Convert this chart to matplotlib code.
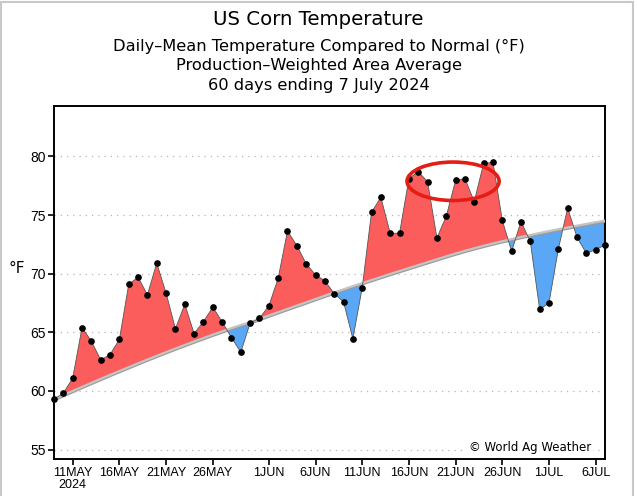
import numpy as np
import matplotlib
matplotlib.use('agg')
import matplotlib.pyplot as plt
import matplotlib.dates as mdates
from matplotlib.patches import Ellipse, Rectangle

# Data
start_day = '2024-05-09'
end_day = '2024-07-08'   # exclusive
observed = [59.3, 59.8, 61.1, 65.4, 64.25, 62.65, 63.1, 64.4, 69.1, 69.7,
            68.2, 70.9, 68.35, 65.3, 67.4, 64.9, 65.9, 67.15, 65.9, 64.55,
            63.3, 65.8, 66.2, 67.25, 69.6, 73.65, 72.4, 70.85, 69.9, 69.4,
            68.3, 67.6, 64.45, 68.8, 75.25, 76.5, 73.45, 73.45, 78.1, 78.7,
            77.85, 73.05, 74.9, 77.95, 78.1, 76.15, 79.4, 79.5, 74.55, 71.9,
            74.45, 72.75, 66.95, 67.5, 72.1, 75.6, 73.1, 71.75, 72.05, 72.45]
normal = [59.30, 59.65, 60.00, 60.35, 60.69, 61.03, 61.37, 61.70, 62.03, 62.36,
          62.68, 63.00, 63.31, 63.62, 63.92, 64.22, 64.51, 64.80, 65.08, 65.36,
          65.63, 65.85, 66.14, 66.43, 66.72, 67.00, 67.28, 67.56, 67.84, 68.12,
          68.40, 68.67, 68.94, 69.20, 69.46, 69.72, 69.98, 70.23, 70.48, 70.73,
          70.98, 71.23, 71.48, 71.72, 71.95, 72.17, 72.38, 72.58, 72.77, 72.95,
          73.13, 73.30, 73.47, 73.63, 73.79, 73.94, 74.09, 74.24, 74.39, 74.53]
tick_dates = ['2024-05-11', '2024-05-16', '2024-05-21', '2024-05-26', '2024-06-01',
              '2024-06-06', '2024-06-11', '2024-06-16', '2024-06-21', '2024-06-26',
              '2024-07-01', '2024-07-06']
tick_labels = ['11MAY\n2024', '16MAY', '21MAY', '26MAY', '1JUN', '6JUN', '11JUN',
               '16JUN', '21JUN', '26JUN', '1JUL', '6JUL']
y_ticks = [55, 60, 65, 70, 75, 80]

titles = ['US Corn Temperature',
          'Daily\u2013Mean Temperature Compared to Normal (\u00b0F)',
          'Production\u2013Weighted Area Average',
          '60 days ending 7 July 2024']

RED = '#fb5d5d'
BLUE = '#5aa7f5'

days = np.arange(start_day, end_day, dtype='datetime64[D]')
x = mdates.date2num(days)
obs = np.array(observed)
nrm = np.array(normal)

fig = plt.figure(figsize=(6.37, 4.96), dpi=100)
ax = fig.add_axes([0.0848, 0.0746, 0.865, 0.7117])

# Light grey frame round the picture
fig.patches.append(Rectangle((0.002, -0.01), 0.992, 1.006, transform=fig.transFigure,
                             fill=False, edgecolor='#c8c8c8', linewidth=1.5))

# Titles
fig.text(0.5, 0.9597, titles[0], ha='center', va='center', fontsize=14.2)
fig.text(0.5, 0.907, titles[1], ha='center', va='center', fontsize=11.7)
fig.text(0.5, 0.868, titles[2], ha='center', va='center', fontsize=11.7)
fig.text(0.5, 0.8276, titles[3], ha='center', va='center', fontsize=11.7)

# Grid
for yv in y_ticks:
    ax.axhline(yv, color='#b4b4b4', linestyle=(0, (1, 4)), linewidth=0.9, zorder=1)

# Fills above/below normal
ax.fill_between(x, nrm, obs, where=obs >= nrm, interpolate=True, color=RED,
                linewidth=0, zorder=2)
ax.fill_between(x, nrm, obs, where=obs < nrm, interpolate=True, color=BLUE,
                linewidth=0, zorder=2)

# Normal line
ax.plot(x, nrm - 0.08, color='#9a9a9a', linewidth=2.0, zorder=3, solid_capstyle='butt')
ax.plot(x, nrm, color='#c4c4c4', linewidth=1.6, zorder=3, solid_capstyle='butt')

# Observed line and points
ax.plot(x, obs, color='#555555', linewidth=0.6, zorder=4)
ax.plot(x, obs, 'o', color='black', markersize=3.8, zorder=5, clip_on=False)

# Red ellipse annotation
ax.add_patch(Ellipse((x[0] + 42.73, 77.88), 9.86, 3.28, fill=False,
                     edgecolor='#e41e14', linewidth=2.6, zorder=6))

# Copyright text
ax.text(0.975, 0.033, '\u00a9 World Ag Weather', transform=ax.transAxes,
        ha='right', va='center', fontsize=8.5, zorder=7,
        bbox=dict(facecolor='white', edgecolor='none', pad=1.5))

# Axes
ax.set_xlim(x[0], x[0] + 59)
ax.set_ylim(54.2, 84.3)
ax.set_xticks(mdates.date2num(np.array(tick_dates, dtype='datetime64[D]')))
ax.set_xticklabels(tick_labels, family=['Liberation Sans Narrow', 'Liberation Sans'],
                   fontsize=9, linespacing=1.0)
ax.set_yticks(y_ticks)
ax.set_yticklabels([str(v) for v in y_ticks], family='Liberation Sans', fontsize=10)
ax.tick_params(axis='both', direction='out', length=4, width=1.2, pad=2)
for side in ['left', 'right', 'top', 'bottom']:
    ax.spines[side].set_linewidth(1.4)
ax.text(-0.067, 0.541, '\u00b0F', transform=ax.transAxes, ha='center', va='center',
        fontsize=11)

plt.savefig('out.png', dpi=100)
plt.close()
